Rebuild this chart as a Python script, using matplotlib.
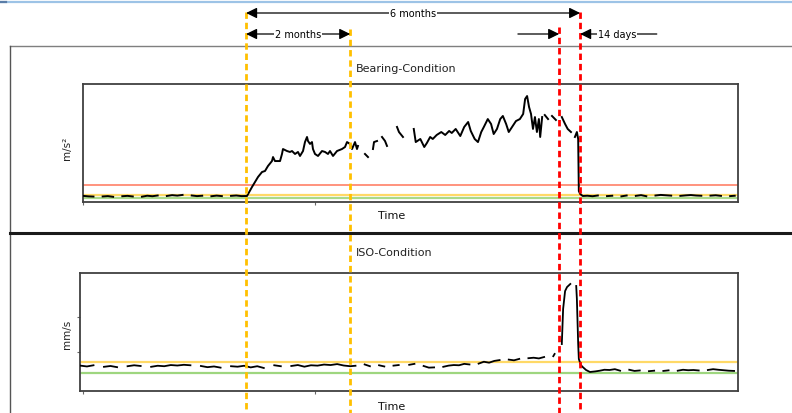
import numpy as np
import matplotlib
matplotlib.use("Agg")
import matplotlib.pyplot as plt
from matplotlib.patches import FancyArrowPatch
from matplotlib.lines import Line2D
from matplotlib.transforms import blended_transform_factory

nan = np.nan

# ---------------- data ----------------
# event times (time axis units): start of damage, +2 months, 14 days before, repair (6 months)
event_t = [24.9, 40.8, 72.7, 75.9]
event_colors = ["#FFC000", "#FFC000", "#FF0000", "#FF0000"]

span_labels = ["6 months", "2 months", "14 days"]

# Bearing condition (m/s^2) thresholds
bear_alarm = 1.44
bear_warn = 0.61
bear_ok = 0.36

bear_t = [
    0.0, 0.8, 1.6, 2.4, 3.0, 3.8, 4.6, 5.4, 6.0, 6.8, 7.6, 8.4, 9.0, 9.8, 10.6, 11.4, 12.2,
    12.8, 13.6, 14.4, 15.2, 16.0, 16.6, 17.4, 18.2, 19.0, 19.6, 20.4, 21.2, 22.0, 22.6, 23.4,
    24.2, 24.7,
    25.04, 25.80, 26.26, 26.72, 27.33, 27.79, 28.24, 28.85, 29.01, 29.31, 30.08, 30.38, 30.53,
    31.15, 31.60, 31.91, 32.37, 32.82, 33.13, 33.59, 33.89, 34.20, 34.35, 34.66, 34.96, 35.11,
    35.42, 35.88, 36.49, 36.95, 37.40, 37.71, 38.17, 38.78, 39.54, 40.00, 40.31, 40.76, 41.07,
    41.53, 41.83, 41.98, 42.3, 43.05, 43.51, 43.8, 44.27, 44.43, 44.89, 45.2, 45.65, 46.11,
    46.41, 46.8, 47.94, 48.24, 48.85, 49.6,
    50.5, 50.8, 51.5, 52.1, 52.5, 53.0, 53.4, 54.0, 54.7,
    55.3, 55.9, 56.3, 56.9, 57.6, 58.2, 58.8, 59.2, 59.8, 60.3, 60.8, 61.2, 61.8, 62.3, 62.7,
    63.2, 63.7, 64.1, 64.6, 65.0, 65.5, 66.1, 66.7, 67.2, 67.5, 67.8, 68.1, 68.4, 68.7, 69.0,
    69.3, 69.6, 69.8, 70.1, 70.3, 70.5, 71.0, 71.3, 71.6, 72.2, 72.6, 73.1, 73.6, 74.0, 74.5,
    74.8, 75.1, 75.4, 75.6, 75.7, 75.9, 76.3,
    77.0, 77.8, 78.6, 79.4, 80.0, 80.8, 81.6, 82.2, 83.0, 83.8, 84.4, 85.2, 86.0, 86.8, 87.4,
    88.2, 89.0, 89.8, 90.6, 91.2, 92.0, 92.8, 93.6, 94.4, 95.2, 95.8, 96.6, 97.4, 98.2, 98.8,
    99.5,
]
bear_v = [
    0.52, 0.48, 0.46, nan, 0.47, 0.50, 0.44, nan, 0.49, 0.52, 0.47, nan, 0.45, 0.53, 0.49, 0.55, nan,
    0.51, 0.58, 0.54, 0.60, nan, 0.55, 0.50, 0.53, nan, 0.49, 0.54, 0.50, nan, 0.52, 0.55,
    0.50, 0.51,
    0.51, 1.27, 1.69, 2.12, 2.54, 2.63, 3.05, 3.47, 3.81, 3.47, 3.47, 4.07, 4.49,
    4.32, 4.24, 4.32, 4.07, 4.24, 3.90, 4.32, 5.08, 5.51, 5.17, 4.92, 5.08, 4.49,
    4.07, 3.90, 4.32, 4.24, 4.07, 4.32, 3.90, 4.32, 4.49, 4.66, 5.08, 4.92, 4.49,
    5.08, 4.49, 4.75, nan, 4.07, 3.81, nan, 4.49, 5.08, 5.17, nan, 5.51, 5.17,
    4.75, nan, 6.36, 5.93, 5.51, nan,
    6.19, 5.08, 5.34, 4.66, 5.00, 5.51, 5.34, 5.68, 5.93,
    5.68, 6.02, 5.85, 6.19, 5.59, 6.36, 6.78, 6.02, 5.34, 5.08, 5.93, 6.36, 7.03, 6.61, 5.76,
    6.19, 7.03, 7.29, 6.61, 5.93, 6.36, 6.86, 7.03, 7.46, 8.73, 8.98, 8.05, 7.46, 6.19, 7.20,
    5.93, 7.03, 5.51, 7.20, nan, 7.37, 7.03, nan, 7.29, 6.95, nan, 7.20, 6.61, 6.19, 5.93,
    nan, 5.51, 5.93, 5.34, 0.93, 0.68, 0.51,
    0.53, 0.49, 0.55, nan, 0.50, 0.53, nan, 0.48, 0.55, nan, 0.52, 0.58, 0.49, nan, 0.55,
    0.60, 0.57, 0.54, nan, 0.52, 0.56, 0.59, 0.55, 0.53, nan, 0.54, 0.57, 0.52, nan, 0.50,
    0.53,
]

# ISO condition (mm/s) thresholds
iso_warn = 2.43
iso_ok = 1.53

iso_t = [
    -0.4, 0.6, 1.6, 2.6, 3.2, 4.2, 5.2, 6.2, 6.8, 7.8, 8.8, 9.8, 10.4, 11.4, 12.4, 13.4, 14.4,
    15.4, 16.4, 17.4, 18.0, 19.0, 20.0, 21.0, 22.0, 22.6, 23.6, 24.6, 25.6, 26.6, 27.6, 28.6,
    29.2, 30.2, 31.2, 31.8, 32.8, 33.8, 34.8, 35.8, 36.8, 37.8, 38.8, 39.8, 40.8, 41.6, 42.4,
    43.0, 43.8, 44.6, 45.2, 46.0, 46.8, 47.4, 48.2, 49.0, 49.8, 50.6, 51.4, 52.0, 52.8, 53.6,
    54.4, 55.0, 55.8, 56.6, 57.4, 58.2, 59.0, 59.8, 60.4, 61.2, 62.0, 62.8, 63.6, 64.4, 65.0,
    65.8, 66.6, 67.4, 68.0, 68.8, 69.6, 70.4, 71.0, 71.8, 72.0, 72.4,
    73.1, 73.3, 73.6, 73.9, 74.4, 74.8, 75.3, 75.4, 75.6, 75.7, 76.0, 76.3,
    76.8, 77.4, 78.2, 78.9, 79.6, 80.4, 81.2, 82.0, 82.8, 83.4, 84.2, 85.0, 85.8, 86.4, 87.2,
    88.0, 88.6, 89.4, 90.2, 90.8, 91.6, 92.4, 93.2, 94.0, 94.8, 95.4, 96.2, 97.0, 97.8, 98.6,
    99.4,
]
iso_v = [
    2.15, 2.08, 2.18, nan, 2.05, 2.12, 2.02, nan, 2.10, 2.18, 2.12, nan, 2.05, 2.14, 2.10, 2.20, 2.16,
    2.22, 2.18, nan, 2.12, 2.02, 2.08, 1.98, nan, 2.10, 2.06, 2.14, 2.00, 2.10, 1.95, nan,
    2.18, 2.10, nan, 2.12, 2.20, 2.06, 2.18, 2.15, 2.24, 2.20, 2.28, 2.16, 2.10, 2.14, nan,
    2.25, 2.10, nan, 2.18, 2.08, nan, 2.15, 2.20, nan, 2.22, 2.30, nan, 2.12, 1.98, 2.00,
    nan, 2.05, 2.15, 2.20, 2.18, 2.30, 2.25, nan, 2.32, 2.48, 2.40, 2.55, 2.62, nan, 2.66,
    2.60, 2.72, nan, 2.78, 2.82, 2.76, 2.88, nan, 2.95, 3.14, nan,
    3.98, 6.95, 8.47, 8.81, 9.07, nan, 8.90, 7.80, 3.98, 2.71, 2.20, 2.03,
    1.78, 1.61, 1.66, 1.72, 1.80, 1.78, 1.85, 1.72, nan, 1.80, 1.70, 1.74, nan, 1.68, 1.72,
    nan, 1.70, 1.75, nan, 1.72, 1.80, 1.76, 1.78, 1.74, nan, 1.78, 1.85, 1.80, 1.76, 1.72,
    1.70,
]

# ---------------- figure ----------------
W, H = 792, 414
fig = plt.figure(figsize=(W / 100, H / 100), dpi=100)
fig.patch.set_facecolor("white")

def fx(x):
    return x / W

def fy(y):
    return 1 - y / H

# outer frame lines
fig.add_artist(Line2D([fx(0), fx(792)], [fy(2.5), fy(2.5)], color="#9DC3E6", lw=1.6))
fig.add_artist(Line2D([fx(0), fx(6)], [fy(2.5), fy(2.5)], color="#5A7DA8", lw=1.6))
fig.add_artist(Line2D([fx(10), fx(792)], [fy(47), fy(47)], color="#7F7F7F", lw=1.0))
fig.add_artist(Line2D([fx(10), fx(10)], [fy(47), fy(414)], color="#555555", lw=1.0))
fig.add_artist(Line2D([fx(10), fx(792)], [fy(233.5), fy(233.5)], color="#1A1A1A", lw=2.2))

spine_col = "#404040"
ax1 = fig.add_axes([fx(83), fy(203), fx(738) - fx(83), fy(85) - fy(203)])
ax2 = fig.add_axes([fx(80), fy(392), fx(738) - fx(80), fy(274) - fy(392)])

ax1.set_xlim(0, 100)
ax1.set_ylim(0, 10)
ax2.set_xlim(-0.46, 100)
ax2.set_ylim(0, 10)

for ax in (ax1, ax2):
    for s in ax.spines.values():
        s.set_color(spine_col)
        s.set_linewidth(1.3)
    ax.set_facecolor("white")
    ax.set_xticks([0, 35.4])
    ax.set_xticklabels([])
    ax.tick_params(axis="both", length=2, width=0.8, color="#666666")

ax1.set_yticks([])
ax2.set_yticks([3.3, 6.3])
ax2.set_yticklabels([])

# thresholds
ax1.axhline(bear_alarm, color="#FF8A73", lw=1.3, zorder=2)
ax1.axhline(bear_warn, color="#FFD966", lw=1.6, zorder=2)
ax1.axhline(bear_ok, color="#A9D98A", lw=1.6, zorder=2)
ax2.axhline(iso_warn, color="#FFD966", lw=1.6, zorder=2)
ax2.axhline(iso_ok, color="#9ED67F", lw=1.6, zorder=2)

ax1.plot(bear_t, bear_v, color="black", lw=1.4, zorder=3)
ax2.plot(iso_t, iso_v, color="black", lw=1.3, zorder=3)

# texts
fig.text(fx(356), fy(69), "Bearing-Condition", fontsize=8, color="#222222",
         ha="left", va="center")
fig.text(fx(356), fy(253), "ISO-Condition", fontsize=8, color="#222222",
         ha="left", va="center")
fig.text(fx(392), fy(216), "Time", fontsize=8, color="#111111", ha="center", va="center")
fig.text(fx(392), fy(407), "Time", fontsize=8, color="#111111", ha="center", va="center")
fig.text(fx(67), fy(148), "m/s²", fontsize=7.5, color="#222222", rotation=90,
         ha="center", va="center")
fig.text(fx(67), fy(334), "mm/s", fontsize=7.5, color="#222222", rotation=90,
         ha="center", va="center")

# vertical event lines spanning the whole figure
bt = blended_transform_factory(ax1.transData, fig.transFigure)
starts = [fy(13), fy(30), fy(28), fy(13)]
for t, c, y0 in zip(event_t, event_colors, starts):
    ln = Line2D([t, t], [y0, 0], transform=bt, color=c, lw=2.0,
                dashes=(2.3, 1.4), zorder=10)
    fig.add_artist(ln)

# span annotations
ann_font = ["Liberation Sans Narrow", "DejaVu Sans"]

def span_arrow(t0, t1, y, style):
    a = FancyArrowPatch((t0, y), (t1, y), transform=bt, arrowstyle=style,
                        mutation_scale=10, color="black", lw=0.9,
                        shrinkA=0, shrinkB=0, zorder=11)
    fig.add_artist(a)

arrow_style = "<|-|>,head_length=0.65,head_width=0.32"
span_arrow(event_t[0], event_t[3], fy(14), arrow_style)
span_arrow(event_t[0], event_t[1], fy(35), arrow_style)
span_arrow(66.4, event_t[2], fy(35), "-|>,head_length=0.65,head_width=0.32")
span_arrow(event_t[3], 87.6, fy(35), "<|-,head_length=0.65,head_width=0.32")

box = dict(facecolor="white", edgecolor="none", pad=0.6)
fig.text((event_t[0] + event_t[3]) / 2, fy(14), span_labels[0], transform=bt,
         fontsize=7, family=ann_font, ha="center", va="center", bbox=box, zorder=12)
fig.text((event_t[0] + event_t[1]) / 2, fy(35), span_labels[1], transform=bt,
         fontsize=7, family=ann_font, ha="center", va="center", bbox=box, zorder=12)
fig.text(81.5, fy(35), span_labels[2], transform=bt,
         fontsize=7, family=ann_font, ha="center", va="center", bbox=box, zorder=12)

fig.savefig("out.png", dpi=100)
